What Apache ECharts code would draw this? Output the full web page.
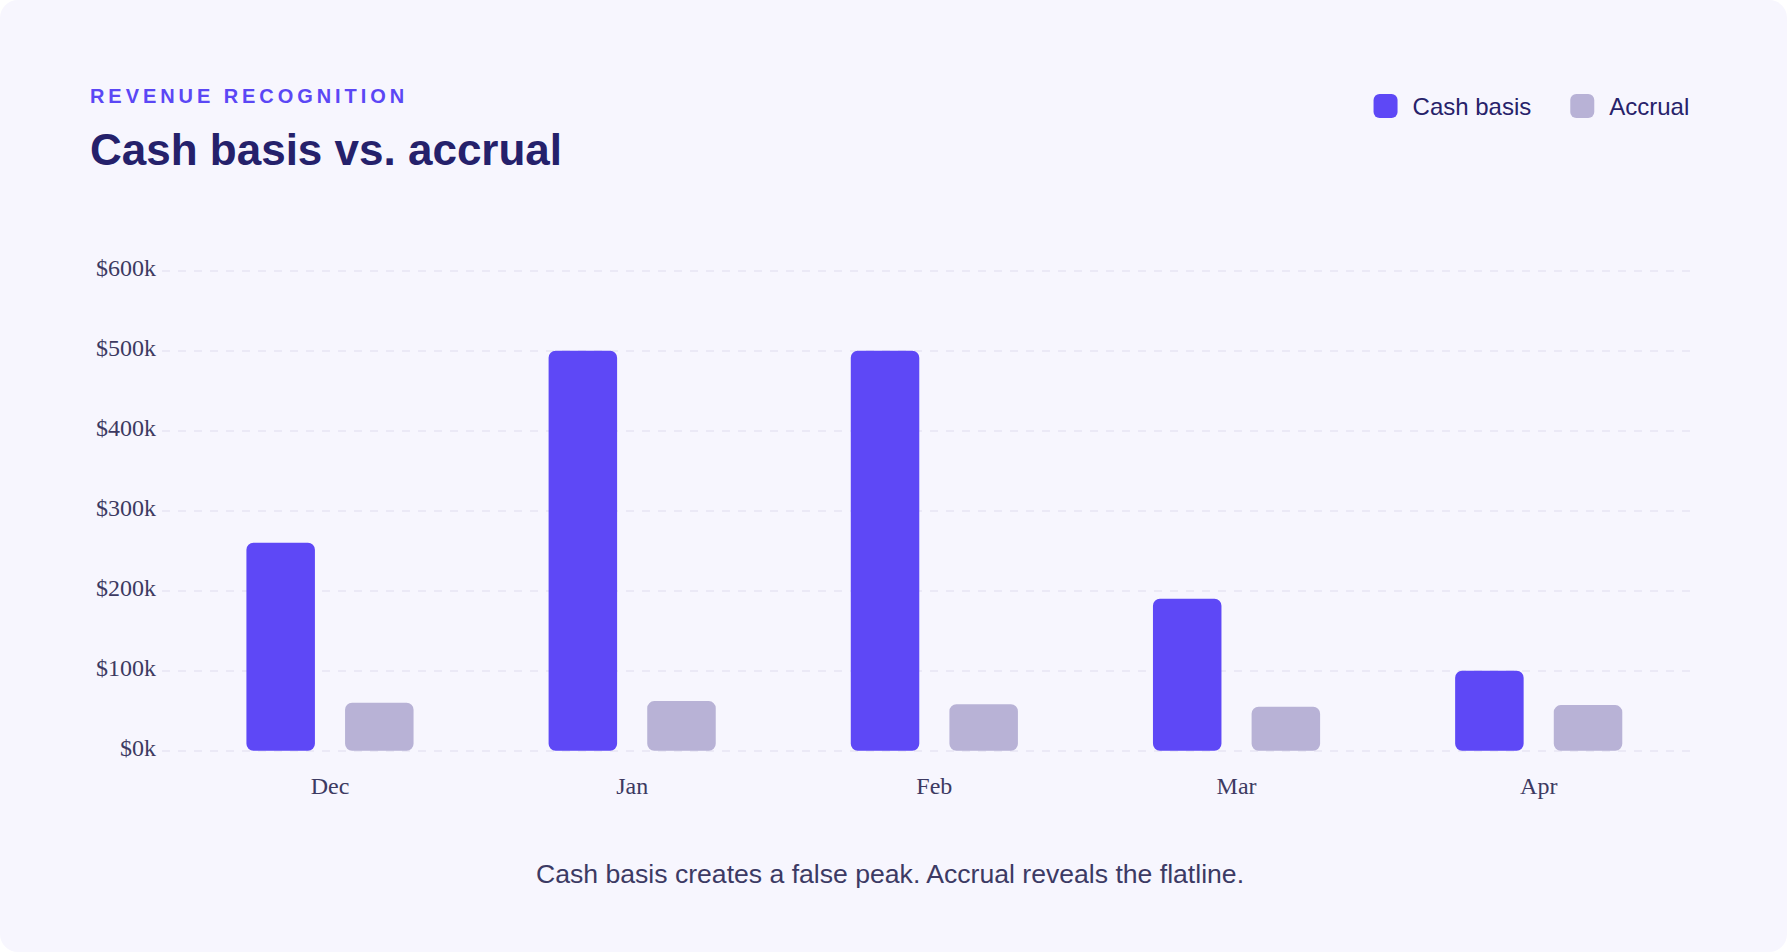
<!DOCTYPE html>
<html>
<head>
<meta charset="utf-8">
<script src="https://cdn.jsdelivr.net/npm/echarts@6/dist/echarts.min.js"></script>
<style>
  html, body { margin: 0; padding: 0; background: #ffffff; }
  #card {
    position: relative;
    width: 1787px;
    height: 952px;
    background: #f7f6fe;
    border-radius: 18px;
    overflow: hidden;
    font-family: "Liberation Sans", Helvetica, Arial, sans-serif;
  }
  #chart { position: absolute; left: 0; top: 0; width: 1787px; height: 952px; }
  .eyebrow {
    position: absolute; left: 90px; top: 86px;
    font-size: 20px; line-height: 20px; font-weight: 700;
    letter-spacing: 3.93px; color: #5b47f5;
  }
  .title {
    position: absolute; left: 90px; top: 128px;
    font-size: 44px; line-height: 44px; font-weight: 700;
    color: #25216b;
  }
  .note {
    position: absolute; left: 0; width: 1780px; top: 861px;
    text-align: center;
    font-size: 26.6px; line-height: 26px;
    color: #3c3a64;
  }
</style>
</head>
<body>
<div id="card">
  <div id="chart"></div>
  <div class="eyebrow">REVENUE RECOGNITION</div>
  <div class="title">Cash basis vs. accrual</div>
  <div class="note">Cash basis creates a false peak. Accrual reveals the flatline.</div>
</div>
<script>
// chart data
var months = ['Dec', 'Jan', 'Feb', 'Mar', 'Apr'];
var cashBasis = [260000, 500000, 500000, 190000, 100000];
var accrual = [60000, 62000, 58000, 55000, 57000];
var seriesNames = ['Cash basis', 'Accrual'];

var chartDom = document.getElementById('chart');
var revChart = echarts.init(chartDom, null, { renderer: 'svg' });
var option;

var labelColor = '#3d3a62';
var serif = '"Liberation Serif", "Times New Roman", Times, serif';

option = {
  animation: false,
  legend: {
    data: seriesNames,
    right: 97.7,
    top: 94,
    padding: 0,
    itemWidth: 24,
    itemHeight: 24,
    itemGap: 39,
    icon: 'roundRect',
    textStyle: {
      fontFamily: '"Liberation Sans", Helvetica, Arial, sans-serif',
      fontSize: 24,
      color: '#27226a',
      padding: [0, 0, 0, 10]
    }
  },
  // grid 0 carries the y labels and gridlines, grid 1 carries the bars
  grid: [
    { left: 162, right: 92, top: 270.7, bottom: 201.3 },
    { left: 178.9, right: 97.2, top: 270.7, bottom: 201.3 }
  ],
  xAxis: [
    {
      gridIndex: 0,
      type: 'category',
      data: months,
      show: false
    },
    {
      gridIndex: 1,
      type: 'category',
      data: months,
      axisLine: { show: false },
      axisTick: { show: false },
      axisLabel: {
        margin: 23,
        fontFamily: serif,
        fontSize: 24,
        color: labelColor
      }
    }
  ],
  yAxis: [
    {
      gridIndex: 0,
      type: 'value',
      min: 0,
      max: 600000,
      interval: 100000,
      axisLine: { show: false },
      axisTick: { show: false },
      axisLabel: {
        margin: 6,
        formatter: function (v) {
          return '{v|$' + (v / 1000) + 'k}';
        },
        rich: {
          v: {
            fontFamily: serif,
            fontSize: 24,
            color: labelColor,
            padding: [0, 0, 5, 0]
          }
        }
      },
      splitLine: {
        lineStyle: { color: '#ebe9f6', width: 2, type: [8, 8] }
      }
    },
    {
      gridIndex: 1,
      type: 'value',
      min: 0,
      max: 600000,
      interval: 100000,
      show: false,
      splitLine: { show: false }
    }
  ],
  series: [
    {
      name: seriesNames[0],
      type: 'bar',
      xAxisIndex: 1,
      yAxisIndex: 1,
      data: cashBasis,
      barWidth: 68.5,
      barGap: '44%',
      itemStyle: { color: '#5e48f6', borderRadius: 7 }
    },
    {
      name: seriesNames[1],
      type: 'bar',
      xAxisIndex: 1,
      yAxisIndex: 1,
      data: accrual,
      barWidth: 68.5,
      barGap: '44%',
      itemStyle: { color: '#b8b2d6', borderRadius: 7 }
    }
  ]
};

option && revChart.setOption(option);
window.addEventListener('resize', function () {
  revChart.resize();
});
</script>
</body>
</html>
